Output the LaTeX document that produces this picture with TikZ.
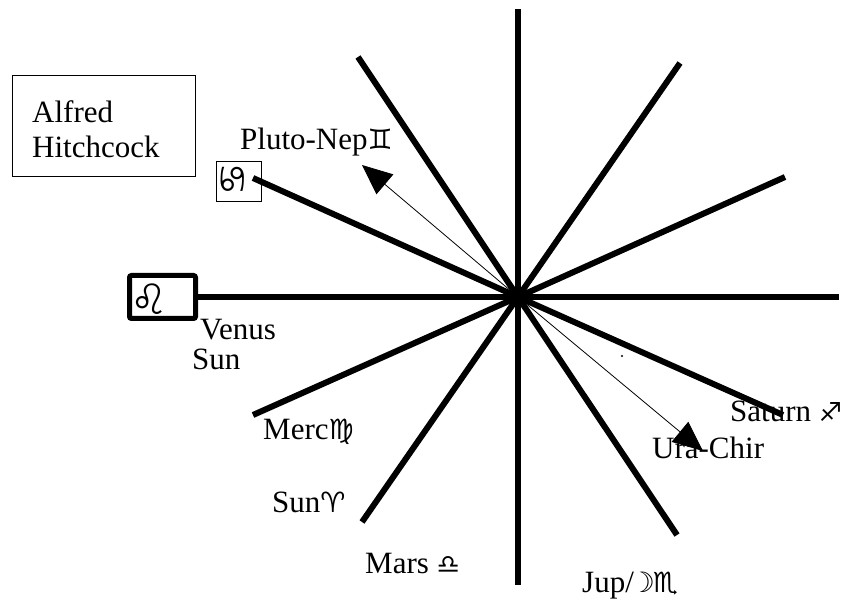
\documentclass[tikz,border=0pt]{standalone}
\usepackage{fontspec}
\setmainfont{Liberation Serif}
\newfontfamily\astro{DejaVu Sans}
\usetikzlibrary{arrows.meta}
\begin{document}
\begin{tikzpicture}[x=1pt,y=-1pt,
  spoke/.style={line width=6pt},
  pointer/.style={line width=0.8pt,-{Triangle[length=30pt,width=26pt]}},
  txt/.style={font=\fontsize{31}{35}\selectfont},
  lbl/.style={txt,anchor=base west,inner sep=0pt},
  ]
\useasboundingbox (0,0) rectangle (849,601);
\coordinate (c) at (518,297);
% boxes
\node[draw,line width=1pt,minimum width=183pt,minimum height=101pt] (namebox) at (104,126) {};
\node[lbl] (alfred) at (32,123) {Alfred};
\node[lbl] (hitch) at (32,158) {Hitchcock};
\node[draw,line width=0.8pt,minimum width=45pt,minimum height=40pt,inner sep=0pt] (cancer) at (238.5,181) {};
\node[inner sep=0pt,rotate=90,font=\astro\fontsize{36}{40}\selectfont] (cancersym) at (233,179) {♋};
\node[draw,line width=5pt,rounded corners=2pt,minimum width=66pt,minimum height=43pt,inner sep=0pt] (leo) at (162.5,297) {};
\node[inner sep=0pt,font=\astro\fontsize{42}{44}\selectfont] (leosym) at (149,299) {♌};
% spoke end points
\coordinate (n) at (518,9);
\coordinate (s) at (518,585);
\coordinate (e) at (839,297);
\coordinate (nnw) at (358,57);
\coordinate (sse) at (677,535);
\coordinate (nne) at (680,63);
\coordinate (ssw) at (362,522);
\coordinate (wnw) at (253,178);
\coordinate (ese) at (783,415);
\coordinate (ene) at (785,177);
\coordinate (wsw) at (253,415);
\foreach \p in {n,s,e,nnw,sse,nne,ssw,wnw,ese,ene,wsw} \draw[spoke] (c) -- (\p);
\draw[spoke] (c) -- (leo.east);
% labels
\node[lbl] (pluto) at (240,150) {Pluto-Nep{\astro\fontsize{28}{30}\selectfont ♊}};
\node[lbl] (venus) at (200,340) {Venus};
\node[lbl] (sun1) at (192,370) {Sun};
\node[lbl] (merc) at (263,439) {Merc{\astro\fontsize{28}{30}\selectfont ♍}};
\node[lbl] (sun2) at (272,512) {Sun{\astro\fontsize{28}{30}\selectfont ♈}};
\node[lbl] (mars) at (365,573) {Mars {\astro\fontsize{26}{30}\selectfont ♎}};
\node[lbl] (saturn) at (730,422) {Saturn {\astro\fontsize{26}{30}\selectfont ♐}};
\node[lbl] (ura) at (652,458) {Ura-Chir};
\node[lbl] (jup) at (582,592) {Jup/{\astro\fontsize{28}{30}\selectfont\hspace{-4pt}☽\hspace{-2pt}♏}};
% pointers
\coordinate (t1) at (362,165);
\coordinate (t2) at (703,451);
\draw[pointer] (c) -- (t1);
\draw[pointer] (c) -- (t2);
\fill (622,356) circle (1.2pt);
\end{tikzpicture}
\end{document}
